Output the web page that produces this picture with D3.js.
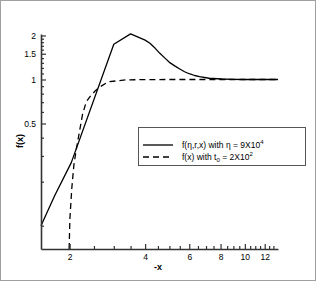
<!DOCTYPE html>
<html><head><meta charset="utf-8">
<script src="https://cdn.jsdelivr.net/npm/d3@7"></script>
<style>body{margin:0;background:#fff}svg{display:block}</style>
</head><body>
<svg id="c" width="316" height="281"></svg>
<script>
// Data
const solidX = [1.537, 1.744, 2.03, 3.0, 3.5, 4.0, 4.18, 4.38, 4.58, 4.8, 5.0, 5.25, 5.5, 5.75, 6.0, 6.3, 6.6, 7.2, 8.1, 9.0, 10.0, 13.56];
const solidY = [0.1, 0.161, 0.27, 1.74, 2.05, 1.86, 1.77, 1.64, 1.51, 1.40, 1.31, 1.24, 1.18, 1.13, 1.095, 1.065, 1.045, 1.02, 1.008, 1.003, 1.0, 1.0];
const dashX = [1.99, 2.005, 2.04, 2.08, 2.13, 2.19, 2.25, 2.33, 2.42, 2.52, 2.64, 2.85, 3.37, 5.0, 13.56];
const dashY = [0.0693, 0.113, 0.181, 0.262, 0.34, 0.443, 0.575, 0.705, 0.77, 0.83, 0.89, 0.965, 0.995, 1.0, 1.0];
const xMajor = [2, 4, 6, 8, 10, 12];
const xMinor = [2.5, 3, 3.5, 4.5, 5, 5.5, 6.5, 7, 7.5, 8.5, 9, 9.5, 10.5, 11, 11.5, 12.5, 13];
const yMajor = [0.5, 1, 1.5, 2];
const yMinor = [0.1, 0.2, 0.3, 0.4, 0.6, 0.7, 0.8, 0.9, 1.1, 1.2, 1.3, 1.4, 1.6, 1.7, 1.8, 1.9];
const legendLabels = ["f(η,r,x) with η = 9X10", "f(x) with t", " = 2X10"];

const svg = d3.select("#c");
const font = "Liberation Sans, Arial, sans-serif";

svg.append("rect").attr("x", 0.5).attr("y", 0.5).attr("width", 315).attr("height", 280)
  .attr("fill", "#fff").attr("stroke", "#a0a0a0").attr("stroke-width", 1);

const x = d3.scaleLog().domain([1.537, 13.56]).range([41, 278]);
const y = d3.scaleLog().domain([0.0693, 2.047]).range([249, 34]);

const line = d3.line().x(d => x(d[0])).y(d => y(d[1]));
const solid = solidX.map((v, i) => [v, solidY[i]]);
const dash = dashX.map((v, i) => [v, dashY[i]]);

svg.append("path").datum(solid).attr("d", line)
  .attr("fill", "none").attr("stroke", "#000").attr("stroke-width", 1.3).attr("stroke-linejoin", "round");
svg.append("path").datum(dash).attr("d", line)
  .attr("fill", "none").attr("stroke", "#000").attr("stroke-width", 1.3)
  .attr("stroke-dasharray", "6,4");

function styleAxis(g) {
  g.select(".domain").attr("stroke", "#333").attr("stroke-width", 1.6);
  g.selectAll(".tick line").attr("stroke", "#333").attr("stroke-width", 1.2);
  g.selectAll("text").attr("font-family", font).attr("font-size", 8.5).attr("fill", "#000");
}

// x axis
const gx = svg.append("g").attr("transform", "translate(0,249)")
  .call(d3.axisBottom(x).tickValues(xMajor).tickFormat(d3.format("d")).tickSize(-5).tickSizeOuter(0).tickPadding(4));
styleAxis(gx);
gx.selectAll(".tick text").attr("dy", "0.71em").attr("y", 5);
const gxm = svg.append("g").attr("transform", "translate(0,249)")
  .call(d3.axisBottom(x).tickValues(xMinor).tickFormat("").tickSize(-3).tickSizeOuter(0));
styleAxis(gxm);
gxm.select(".domain").remove();

// y axis
const gy = svg.append("g").attr("transform", "translate(41,0)")
  .call(d3.axisLeft(y).tickValues(yMajor).tickFormat(d => String(d)).tickSize(-5).tickSizeOuter(0));
styleAxis(gy);
gy.selectAll(".tick text").attr("x", -5);
const gym = svg.append("g").attr("transform", "translate(41,0)")
  .call(d3.axisLeft(y).tickValues(yMinor).tickFormat("").tickSize(-3).tickSizeOuter(0));
styleAxis(gym);
gym.select(".domain").remove();

// axis titles
svg.append("text").attr("x", 158).attr("y", 270).attr("text-anchor", "middle")
  .attr("font-family", font).attr("font-size", 9).attr("font-weight", "bold").text("-x");
svg.append("text").attr("transform", "translate(23,141) rotate(-90)").attr("text-anchor", "middle")
  .attr("font-family", font).attr("font-size", 9).attr("font-weight", "bold").text("f(x)");

// legend
const lg = svg.append("g");
lg.append("rect").attr("x", 138.5).attr("y", 127.5).attr("width", 167).attr("height", 38)
  .attr("fill", "#fff").attr("stroke", "#555").attr("stroke-width", 1);
lg.append("line").attr("x1", 143).attr("x2", 173).attr("y1", 145).attr("y2", 145)
  .attr("stroke", "#000").attr("stroke-width", 1.3);
lg.append("line").attr("x1", 143).attr("x2", 173).attr("y1", 157).attr("y2", 157)
  .attr("stroke", "#000").attr("stroke-width", 1.3).attr("stroke-dasharray", "6,4");
const t1 = lg.append("text").attr("x", 182).attr("y", 148).attr("font-family", font).attr("font-size", 8.5);
t1.append("tspan").text(legendLabels[0]);
t1.append("tspan").attr("font-size", 6).attr("dy", -4).text("4");
const t2 = lg.append("text").attr("x", 182).attr("y", 160).attr("font-family", font).attr("font-size", 8.5);
t2.append("tspan").text(legendLabels[1]);
t2.append("tspan").attr("font-size", 6).attr("dy", 2).text("0");
t2.append("tspan").attr("dy", -2).text(legendLabels[2]);
t2.append("tspan").attr("font-size", 6).attr("dy", -4).text("2");
</script>
</body></html>
